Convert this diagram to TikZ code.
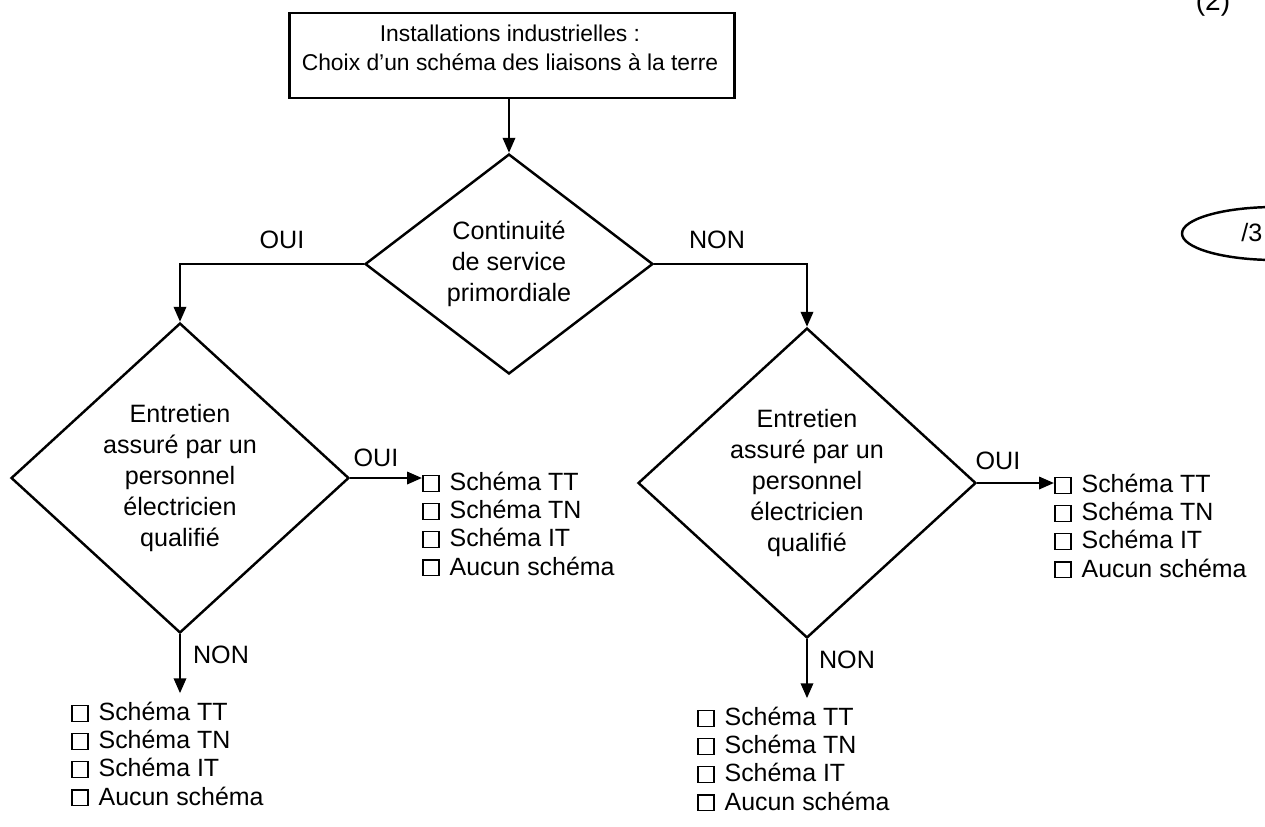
\documentclass[tikz,border=0pt]{standalone}
\usepackage{fontspec}
\setmainfont{Liberation Sans}
\usetikzlibrary{shapes.geometric,arrows.meta}
\newcommand\cbx{{\setlength\fboxsep{0pt}\setlength\fboxrule{0.8pt}\fbox{\rule{0pt}{0.58em}\rule{0.58em}{0pt}}}\hspace{0.4em}}
\begin{document}
\begin{tikzpicture}[x=0.02cm,y=-0.02cm,
  every node/.style={font=\fontsize{14.3}{16.5}\selectfont},
  line/.style={line width=1.4pt},
  arr/.style={line, -{Triangle[length=8.5pt,width=7pt]}},
  decision/.style={diamond, draw, line width=1.4pt, inner sep=0pt, align=center, font=\fontsize{14.3}{17.6}\selectfont},
  titlebox/.style={draw, line width=1.4pt, minimum height=1.7cm},
  lbl/.style={inner sep=0pt},
  choices/.style={align=left, inner sep=0pt, anchor=north west, font=\fontsize{14.2}{16}\selectfont},
]
\useasboundingbox (0,0) rectangle (1265,826);

% title
\node[titlebox, minimum width=8.9cm] (title) at (512,55.5) {};
\node[lbl, align=center, font=\fontsize{13}{16.5}\selectfont] (tt) at (510,47.5) {Installations industrielles :\\Choix d’un schéma des liaisons à la terre};

% decisions
\node[decision, minimum width=5.76cm, minimum height=4.4cm] (d0) at (509,264) {Continuité\\de service\\primordiale};
\node[decision, minimum width=6.76cm, minimum height=6.2cm] (d1) at (180,478) {Entretien\\assuré par un\\personnel\\électricien\\qualifié};
\node[decision, minimum width=6.76cm, minimum height=6.2cm] (d2) at (807,483) {Entretien\\assuré par un\\personnel\\électricien\\qualifié};

% choice lists
\node[choices] (c1) at (422,472) {\cbx Schéma TT\\\cbx Schéma TN\\\cbx Schéma IT\\\cbx Aucun schéma};
\node[choices] (c3) at (71,702) {\cbx Schéma TT\\\cbx Schéma TN\\\cbx Schéma IT\\\cbx Aucun schéma};
\node[choices] (c2) at (1054,474) {\cbx Schéma TT\\\cbx Schéma TN\\\cbx Schéma IT\\\cbx Aucun schéma};
\node[choices] (c4) at (697,707) {\cbx Schéma TT\\\cbx Schéma TN\\\cbx Schéma IT\\\cbx Aucun schéma};

% labels
\node[lbl] (oui0) at (282,240) {OUI};
\node[lbl] (non0) at (717,240) {NON};
\node[lbl] (oui1) at (376,458) {OUI};
\node[lbl] (non1) at (221,655) {NON};
\node[lbl] (oui2) at (998,461) {OUI};
\node[lbl] (non2) at (847,660) {NON};

% connectors
\draw[arr] (title.south -| d0.north) -- (d0.north);
\draw[arr] (d0.west) -| (d1.north);
\draw[arr] (d0.east) -| (d2.north);
\draw[arr] (d1.east) -- (d1.east -| c1.west);
\draw[arr] (d2.east) -- (d2.east -| c2.west);
\draw[arr] (d1.south) -- ([yshift=5pt]d1.south |- c3.north);
\draw[arr] (d2.south) -- ([yshift=5pt]d2.south |- c4.north);

% score mark and page number
\node[draw, ellipse, line width=1.4pt, minimum width=3.72cm, minimum height=1.06cm] (score) at (1275,233.5) {};
\node[lbl, anchor=west] (scoretext) at (1241,233) {/3};
\node[lbl, anchor=base, font=\fontsize{16}{18}\selectfont] (page) at (1213,10) {(2)};
\end{tikzpicture}
\end{document}
